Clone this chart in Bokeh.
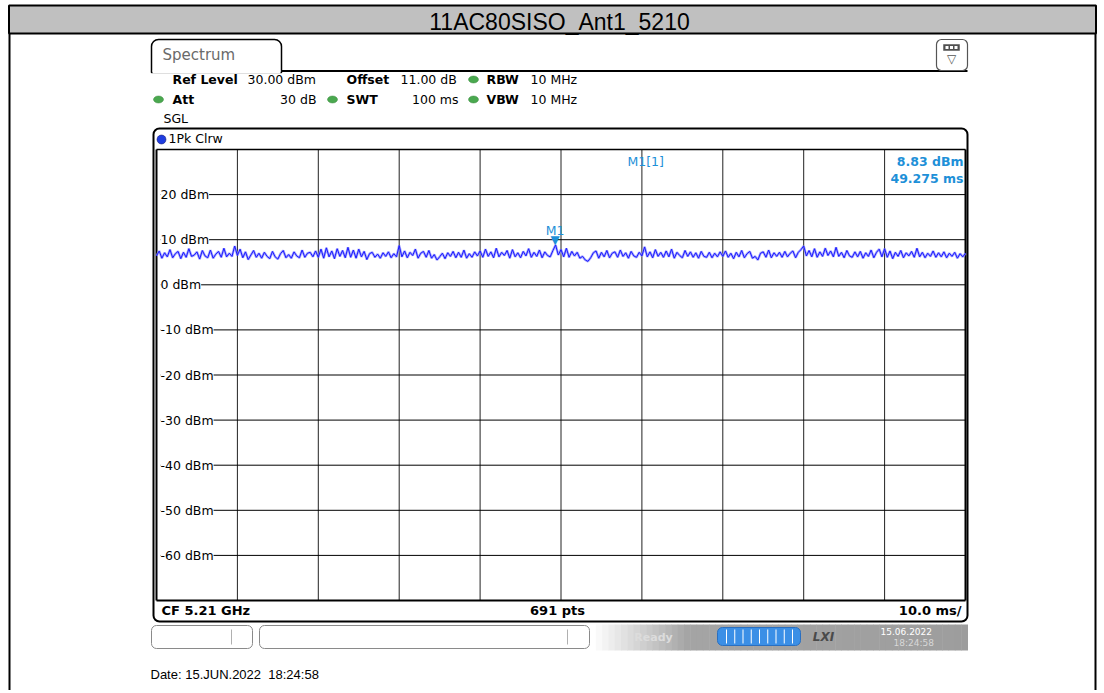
import numpy as np
from bokeh.plotting import figure
from bokeh.models import Range1d, ColumnDataSource, LabelSet
from bokeh.core.properties import value
from bokeh.embed import file_html
from bokeh.resources import INLINE

# ---------------- data ----------------
chart_title = "11AC80SISO_Ant1_5210"
sweep_ms = [0.0, 100.0]
level_max, level_min = 30.0, -70.0
dbm_ticks = [20, 10, 0, -10, -20, -30, -40, -50, -60]
dbm_labels = [f"{v} dBm" for v in dbm_ticks]
time_ticks = [10, 20, 30, 40, 50, 60, 70, 80, 90]

trace_dbm = [
    6.4, 7.5, 5.9, 7.1, 6.2, 7.8, 6.0, 6.9, 7.4, 5.8,
    7.2, 6.1, 8.0, 6.3, 6.6, 7.3, 5.7, 7.6, 6.4, 6.0,
    7.7, 5.9, 6.8, 7.4, 6.1, 8.1, 6.2, 7.0, 6.3, 8.6,
    6.5, 7.9, 6.0, 7.3, 5.6, 6.6, 7.6, 6.1, 7.0, 5.9,
    7.2, 6.3, 5.8, 7.4, 6.2, 5.7, 6.9, 7.6, 6.0, 6.7,
    5.9, 7.3, 6.4, 6.0, 7.7, 6.1, 7.0, 7.2, 6.2, 7.5,
    6.1, 7.9, 5.9, 8.2, 6.2, 7.5, 5.8, 8.0, 6.3, 7.6,
    6.0, 8.3, 6.1, 7.7, 5.9, 7.9, 6.2, 7.4, 5.6, 6.9,
    7.2, 6.1, 6.8, 5.9, 7.1, 6.3, 7.3, 6.0, 6.9, 6.2,
    8.7, 6.2, 7.5, 6.0, 7.2, 6.5, 7.9, 5.9, 7.0, 7.4,
    6.1, 7.6, 5.9, 6.7, 5.5, 6.2, 7.0, 5.8, 7.1, 6.3,
    7.4, 6.0, 7.2, 6.1, 7.7, 5.9, 6.9, 6.1, 7.3, 6.4,
    7.5, 6.1, 7.9, 6.3, 7.3, 6.0, 8.1, 6.2, 7.2, 6.5,
    7.6, 5.9, 7.8, 6.2, 7.1, 6.0, 7.4, 6.4, 8.0, 6.1,
    7.2, 6.3, 7.7, 6.0, 7.3, 6.5, 6.2, 7.6, 8.83, 6.6,
    7.8, 6.2, 8.1, 6.1, 7.4, 6.4, 7.2, 5.9, 6.3, 5.5,
    5.2, 6.0, 7.1, 7.5, 5.9, 7.2, 6.2, 7.6, 6.0, 7.0,
    7.3, 6.1, 7.7, 6.3, 7.1, 5.9, 7.4, 6.4, 6.1, 7.2,
    6.4, 8.4, 6.2, 7.3, 6.0, 7.8, 6.3, 7.2, 6.1, 7.5,
    6.2, 7.9, 5.9, 7.2, 6.5, 6.0, 7.6, 6.3, 7.3, 6.1,
    7.1, 5.9, 7.4, 6.3, 6.1, 7.2, 6.0, 7.0, 6.2, 7.3,
    6.3, 7.5, 6.1, 7.0, 5.8, 7.2, 6.2, 7.6, 6.0, 6.9,
    7.4, 5.9, 6.3, 5.5, 7.0, 7.3, 6.1, 7.7, 6.0, 7.1,
    6.3, 7.2, 6.1, 7.4, 6.2, 7.0, 7.5, 6.0, 7.2, 7.8,
    8.6, 6.4, 7.6, 6.2, 8.0, 6.1, 7.3, 6.3, 8.1, 6.5,
    7.5, 6.2, 8.3, 6.3, 7.2, 6.0, 7.6, 6.4, 6.1, 7.3,
    6.2, 7.4, 5.9, 7.1, 6.3, 7.7, 6.0, 7.2, 7.9, 6.2,
    8.0, 6.1, 7.5, 5.8, 7.2, 6.3, 7.6, 6.0, 7.1, 6.4,
    7.4, 6.1, 8.1, 6.2, 7.2, 6.0, 7.0, 6.3, 7.5, 6.1,
    7.1, 6.2, 7.3, 6.0, 7.0, 6.3, 7.2, 5.9, 6.9, 6.2,
    7.0,
]
trace_ms = list(np.linspace(sweep_ms[0], sweep_ms[1], len(trace_dbm)))

marker_name = "M1"
marker_ms = 49.275
marker_dbm = 8.83

row1 = [("Ref Level", True), ("30.00 dBm", False), ("Offset", True), ("11.00 dB", False), ("RBW", True), ("10 MHz", False)]
row2 = [("Att", True), ("30 dB", False), ("SWT", True), ("100 ms", False), ("VBW", True), ("10 MHz", False)]
footer_left, footer_mid, footer_right = "CF 5.21 GHz", "691 pts", "10.0 ms/"
date_text = "Date: 15.JUN.2022\u00a0\u00a018:24:58"

# ---------------- layout ----------------
W, H = 1100, 690
OX, OY = 0, 0


def X(px):
    return px - OX


def Y(py):
    return H - (py - OY)


GX0, GX1, GY0, GY1 = 156, 965, 149, 600
UI = value("DejaVu Sans")

p = figure(width=W, height=H, x_range=Range1d(0, W), y_range=Range1d(0, H),
           output_backend="svg", toolbar_location=None, min_border=0,
           x_axis_location=None, y_axis_location=None)
p.xgrid.visible = False
p.ygrid.visible = False
p.outline_line_color = None
p.background_fill_color = "white"
p.border_fill_color = "white"

ms_per_px = (sweep_ms[1] - sweep_ms[0]) / (GX1 - GX0)
p.extra_x_ranges = {"t": Range1d(sweep_ms[0] - (GX0 - OX) * ms_per_px,
                                 sweep_ms[1] + (OX + W - GX1) * ms_per_px)}
db_per_px = (level_max - level_min) / (GY1 - GY0)
p.extra_y_ranges = {"db": Range1d(level_min - (OY + H - GY1) * db_per_px,
                                  level_max + (GY0 - OY) * db_per_px)}


def box(x0, y0, x1, y1, fill="white", line="black", lw=1.0, radius=0, alpha=1.0):
    p.quad(left=X(x0), right=X(x1), top=Y(y0), bottom=Y(y1), fill_color=fill,
           fill_alpha=alpha, line_color=line, line_width=lw, border_radius=radius)


def seg(x0, y0, x1, y1, color="black", lw=1.0):
    p.segment(x0=[X(x0)], y0=[Y(y0)], x1=[X(x1)], y1=[Y(y1)], line_color=color, line_width=lw)


def txt(x, y, s, size=12.5, color="black", bold=False, align="left", baseline="middle",
        font=UI, style=None):
    p.text(x=[X(x)], y=[Y(y)], text=[s], text_font=font, text_font_size=f"{size}px",
           text_color=color, text_font_style=style or ("bold" if bold else "normal"),
           text_align=align, text_baseline=baseline)


def dot(x, y, color="#4aa84f", w=10, h=7, line="#3d8a41"):
    p.ellipse(x=[X(x)], y=[Y(y)], width=w, height=h, fill_color=color, line_color=line, line_width=0.5)


# outer frame + title bar
box(8.5, 5, 1095.5, 33, fill="#c0c0c0", line="black", lw=2)
seg(9, 33, 9, 700, lw=2)
seg(1095, 33, 1095, 700, lw=2)
txt(559, 21, chart_title, size=23, font=value("Liberation Sans"), align="center")

# Spectrum tab
box(151, 39, 281, 72, fill="white", line="black", lw=1.5, radius=[7, 7, 0, 0])
seg(152, 71.5, 280, 71.5, color="white", lw=3)
seg(281, 70.5, 967, 70.5, lw=2)
txt(162, 54, "Spectrum", size=15, color="#6a6a6a")

# icon on the right
box(936, 39, 967, 70, fill="white", line="#555555", lw=1.2, radius=5)
box(943, 44, 959, 50, fill="#505050", line="#505050", lw=0.5)
for xx in (945, 949.5, 954):
    box(xx, 45.5, xx + 3, 48.5, fill="white", line=None)
txt(951, 58, "▽", size=12, color="#555555", align="center")

# header rows
row1_x = [172, 247, 346, 400, 486, 530]
for (s, b), xx in zip(row1, row1_x):
    txt(xx, 79, s, bold=b)
dot(473, 79)
row2_x = [(172, "left"), (316, "right"), (346, "left"), (458, "right"), (486, "left"), (530, "left")]
for (s, b), (xx, al) in zip(row2, row2_x):
    txt(xx, 99, s, bold=b, align=al)
for xx in (158, 332, 473):
    dot(xx, 99)
txt(163, 118, "SGL")

# plot panel
box(153, 128, 967, 621, fill="white", line="black", lw=2, radius=6)
dot(161, 139, color="#1f3de0", w=9, h=9, line="#101060")
txt(168, 138, "1Pk Clrw")

# grid
for t in time_ticks:
    p.segment(x0=[t], y0=[level_min], x1=[t], y1=[level_max], x_range_name="t",
              y_range_name="db", line_color="#222222", line_width=1)
for v in dbm_ticks:
    p.segment(x0=[X(160)], y0=[v], x1=[X(GX1)], y1=[v], y_range_name="db",
              line_color="black", line_width=1)
seg(GX0, GY0, GX1, GY0, lw=1.5)
seg(GX0, GY1, GX1, GY1, lw=2)
seg(GX0, GY0, GX0, GY1, lw=2)
seg(GX1, GY0, GX1, GY1, lw=2)

lab_src = ColumnDataSource(dict(x=[X(160)] * len(dbm_ticks), y=dbm_ticks, text=dbm_labels))
p.add_layout(LabelSet(x="x", y="y", text="text", source=lab_src, y_range_name="db",
                      text_font=UI, text_font_size="12.5px", text_baseline="middle",
                      text_color="black", background_fill_color="white"))

# trace
p.line(trace_ms, trace_dbm, x_range_name="t", y_range_name="db",
       line_color="#8a8aff", line_width=2.5, line_alpha=0.75)
p.line(trace_ms, trace_dbm, x_range_name="t", y_range_name="db",
       line_color="#1a1aff", line_width=1)

# marker
MBLUE = "#1e90d8"
p.text(x=[marker_ms], y=[marker_dbm], text=["▼"], x_range_name="t", y_range_name="db",
       text_font=UI, text_font_size="12px", text_color=MBLUE, text_align="center",
       text_baseline="bottom", y_offset=2)
p.text(x=[marker_ms], y=[marker_dbm], text=[marker_name], x_range_name="t", y_range_name="db",
       text_font=UI, text_font_size="12.5px", text_color=MBLUE, text_align="center",
       text_baseline="bottom", y_offset=-7)
txt(627, 161, f"{marker_name}[1]", color=MBLUE)
txt(963, 161, f"{marker_dbm:.2f} dBm", color=MBLUE, bold=True, align="right")
txt(963, 178, f"{marker_ms:.3f} ms", color=MBLUE, bold=True, align="right")

# bottom info row
txt(161, 610, footer_left, bold=True, size=13)
txt(557, 610, footer_mid, bold=True, size=13, align="center")
txt(961, 610, footer_right, bold=True, size=13, align="right")

# status bar
n = 60
xs = np.linspace(589, 967, n + 1)
for i in range(n):
    f = i / n
    g = int(255 - 90 * min(1.0, f * 4)) if f < 0.25 else int(165 - 10 * (f - 0.25))
    col = "#%02x%02x%02x" % (g, g, g)
    box(xs[i], 624, xs[i + 1] + 0.5, 650, fill=col, line=None)
box(151, 625, 252, 648, fill="white", line="#8a8a8a", lw=1, radius=5)
seg(231, 629, 231, 644, color="#b0b0b0")
box(259, 625, 589, 648, fill="white", line="#8a8a8a", lw=1, radius=5)
seg(567, 629, 567, 644, color="#b0b0b0")
txt(653, 637, "Ready", size=11, color="#dcdcdc", bold=True, align="center")
box(717, 627, 800, 645, fill="#3b8fe6", line="#2a6fc0", lw=1, radius=5)
for xx in np.linspace(726, 792, 9):
    seg(xx, 629, xx, 643, color="white", lw=1)
txt(823, 636, "LXI", size=12, color="#4a4a4a", style="bold italic", align="center")
txt(880, 631, "15.06.2022", size=9, color="white")
txt(893, 642, "18:24:58", size=9, color="#d8d8d8")

# date line
txt(150, 674, date_text, size=13, font=value("Liberation Sans"))

open("out.html", "w").write(file_html(p, INLINE))
